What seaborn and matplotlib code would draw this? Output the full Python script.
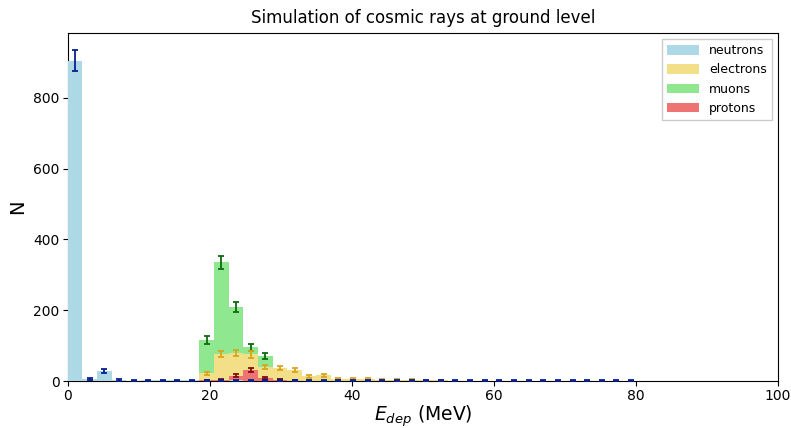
import numpy as np
import pandas as pd
import matplotlib
matplotlib.use("Agg")
import matplotlib.pyplot as plt
import seaborn as sns
from matplotlib.patches import Patch

# ---- data (counts per bin, bin width ~2.06 MeV starting at 0) ----
bin_width = 2.06
species = ["neutrons", "electrons", "muons", "protons"]

neutrons = [905, 5, 28, 3, 1, 2, 2, 2, 2, 1, 1, 2, 1, 1, 1, 1, 1, 1, 1, 1,
            1, 1, 1, 1, 1, 1, 1, 1, 1, 1, 1, 1, 1, 1, 1, 1, 1, 1, 1]
electrons = [0, 0, 0, 0, 0, 0, 0, 0, 0, 22, 76, 80, 75, 40, 36, 30, 13, 16, 7, 6,
             5, 4, 3, 3, 2, 2]
muons = [0, 0, 0, 0, 0, 0, 0, 0, 0, 115, 335, 210, 95, 70, 3, 2]
protons = [0, 0, 0, 0, 0, 0, 0, 0, 0, 2, 4, 15, 30, 8, 3, 1]

fill_colors = {"neutrons": "#add8e6", "electrons": "#f2df88",
               "muons": "#8fe88f", "protons": "#ee7474"}
err_colors = {"neutrons": "#0a1f8f", "electrons": "#d9a520",
              "muons": "#0f6a12", "protons": "#8b0a0a"}
draw_order = {"muons": 1, "electrons": 2, "protons": 3, "neutrons": 4}

series = {"neutrons": neutrons, "electrons": electrons,
          "muons": muons, "protons": protons}

fig = plt.figure(figsize=(7.91, 4.28), dpi=100)
ax = fig.add_axes([0.0856, 0.1098, 0.8980, 0.8132])

for name in ["muons", "electrons", "protons", "neutrons"]:
    counts = np.array(series[name], dtype=float)
    n = len(counts)
    edges = np.arange(n + 1) * bin_width
    centers = (edges[:-1] + edges[1:]) / 2
    df = pd.DataFrame({"E": centers, "N": counts})
    z = draw_order[name]
    sns.histplot(data=df, x="E", weights="N", binwidth=bin_width,
                 binrange=(0, n * bin_width), element="step",
                 fill=True, color=fill_colors[name], alpha=1, linewidth=0,
                 ax=ax, zorder=z)
    if name == "neutrons":
        mask = np.ones(n, dtype=bool)
    else:
        mask = counts > 0
    ax.errorbar(centers[mask], counts[mask], yerr=np.sqrt(counts[mask]),
                fmt="none", ecolor=err_colors[name], capsize=2.2,
                elinewidth=1.3, capthick=1.3, zorder=5 + z)

ax.set_xlim(0, 100)
ax.set_ylim(0, 983)
ax.set_xticks([0, 20, 40, 60, 80, 100])
ax.set_yticks([0, 200, 400, 600, 800])
ax.tick_params(labelsize=10, pad=2.5)
ax.set_title("Simulation of cosmic rays at ground level", fontsize=12, pad=7)
ax.set_xlabel(r"$E_{dep}$ (MeV)", fontsize=13.5, labelpad=0)
ax.set_ylabel("N", fontsize=14)

handles = [Patch(facecolor=fill_colors[s], edgecolor="none", label=s) for s in species]
ax.legend(handles=handles, loc="upper right", fontsize=9, handlelength=2.6,
          handleheight=0.8, framealpha=1, edgecolor="#cccccc", fancybox=False)

fig.savefig("out.png", dpi=100)
